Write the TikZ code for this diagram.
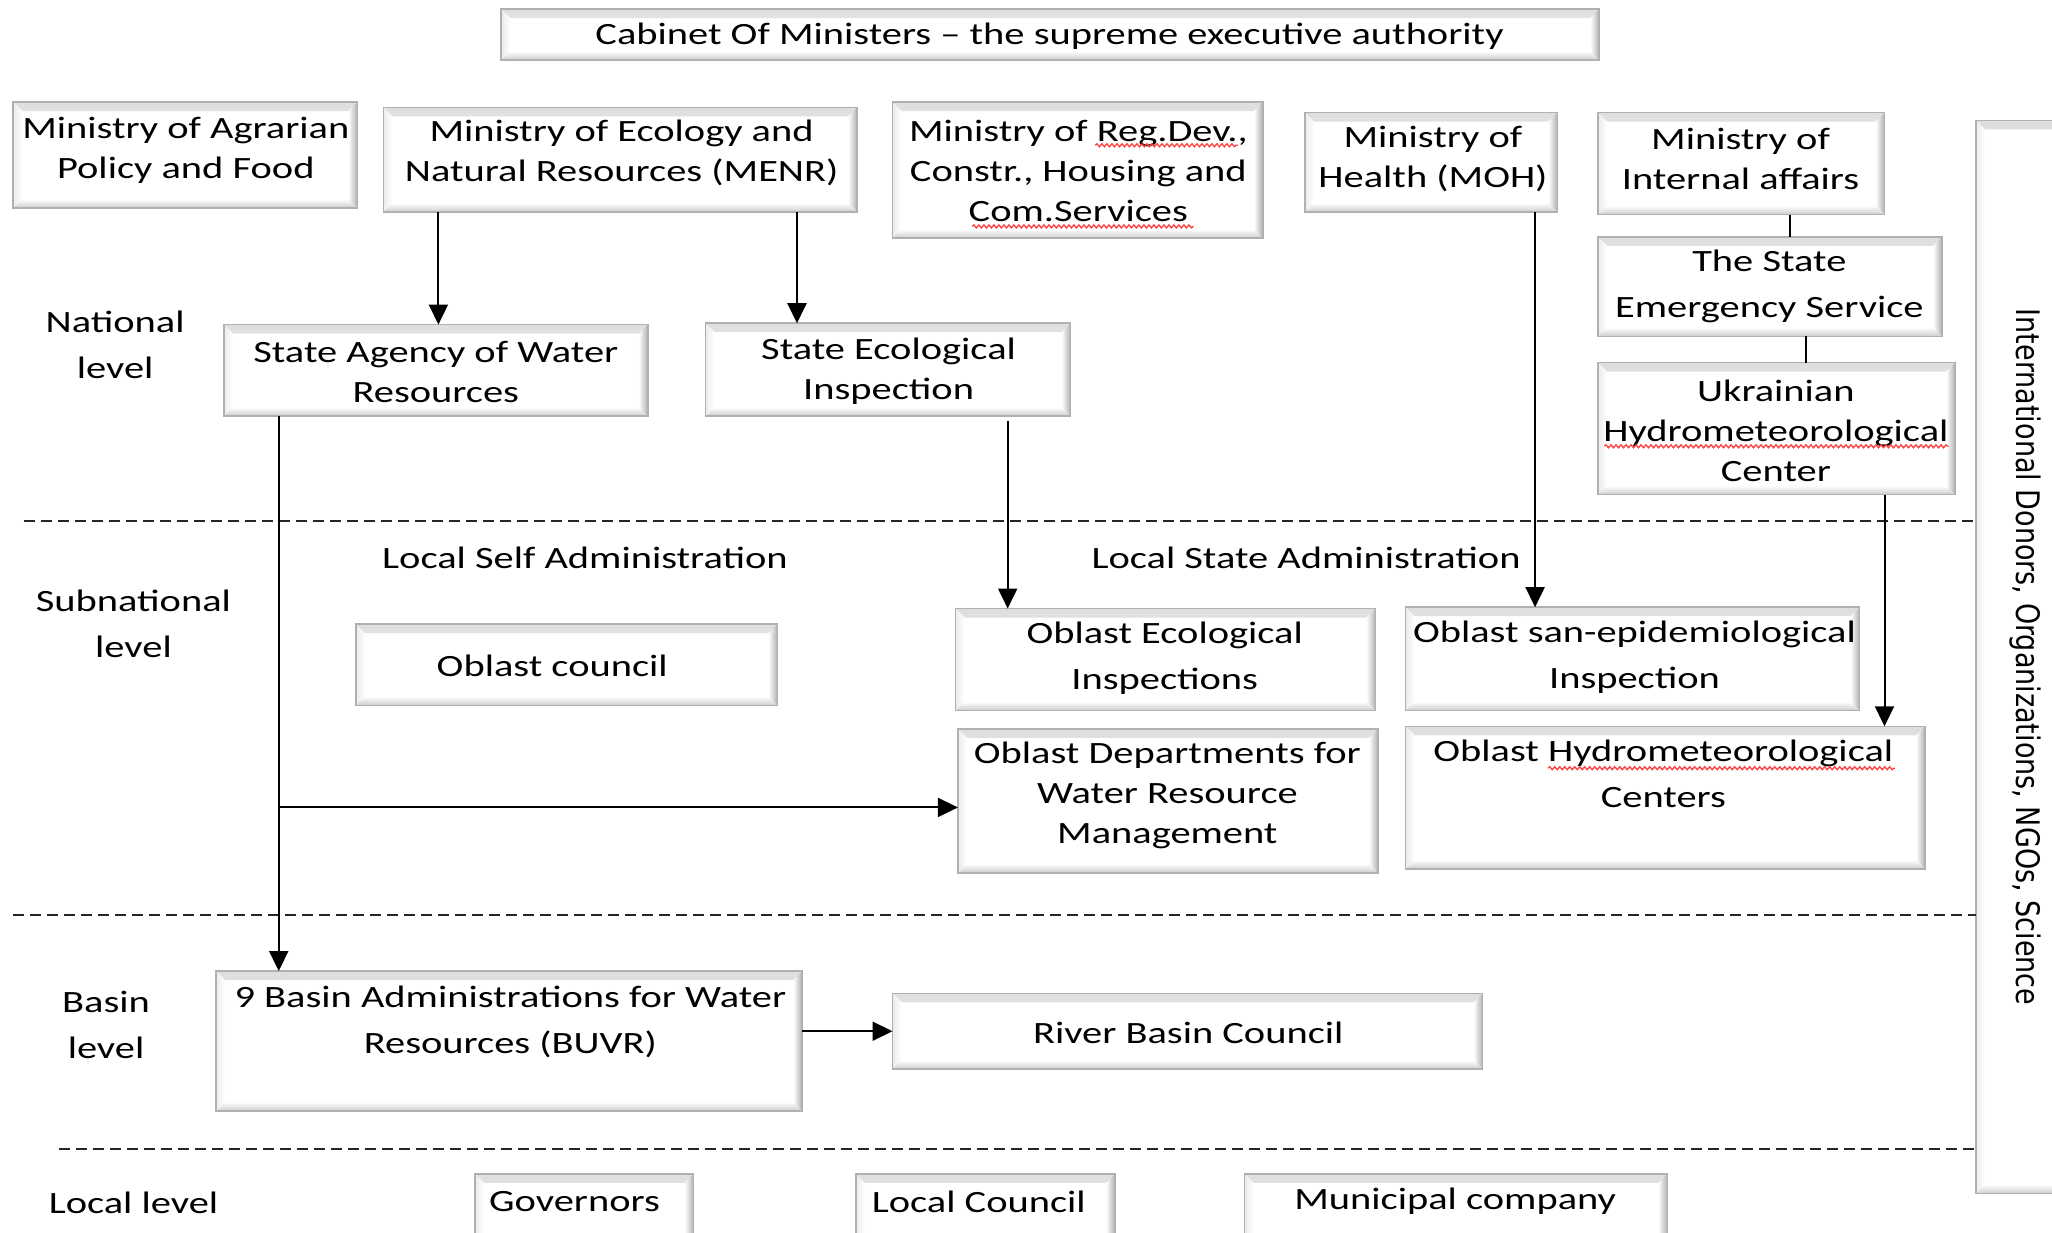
\documentclass[tikz,border=0pt]{standalone}
\usepackage{fontspec}
\setmainfont{Carlito}[FakeStretch=1.305]
\newfontfamily\vfont{DejaVu Sans}
\usetikzlibrary{arrows.meta,fit,calc,decorations.pathmorphing}

\tikzset{
  bevelbox/.style={draw=gray!62, line width=1.5pt, fill=white, inner sep=0pt, outer sep=0pt,
    path picture={
      \shade[top color=gray!26, bottom color=white]
        let \p1=(path picture bounding box.south west), \p2=(path picture bounding box.north east) in
        (\x1,\y2) -- (\x2,\y2) -- ({\x2-9pt},{\y2-9pt}) -- ({\x1+9pt},{\y2-9pt}) -- cycle;
      \shade[left color=white, right color=gray!62]
        let \p1=(path picture bounding box.south west), \p2=(path picture bounding box.north east) in
        (\x2,\y2) -- (\x2,\y1) -- ({\x2-9pt},{\y1+9pt}) -- ({\x2-9pt},{\y2-9pt}) -- cycle;
      \shade[top color=white, bottom color=gray!40]
        let \p1=(path picture bounding box.south west), \p2=(path picture bounding box.north east) in
        (\x1,\y1) -- (\x2,\y1) -- ({\x2-9pt},{\y1+9pt}) -- ({\x1+9pt},{\y1+9pt}) -- cycle;
      \shade[left color=gray!16, right color=white]
        let \p1=(path picture bounding box.south west), \p2=(path picture bounding box.north east) in
        (\x1,\y1) -- (\x1,\y2) -- ({\x1+9pt},{\y2-9pt}) -- ({\x1+9pt},{\y1+9pt}) -- cycle;
    }},
  txt/.style={font=\fontsize{31pt}{40pt}\selectfont, align=center, inner sep=0pt, text=black, yshift=-2.6pt},
  txtw/.style={font=\fontsize{31pt}{46pt}\selectfont, align=center, inner sep=0pt, text=black, yshift=-2.6pt},
  arr/.style={line width=2pt, draw=black, -{Triangle[length=20pt,width=19pt]}},
  ln/.style={line width=2pt, draw=black},
  dline/.style={line width=1.7pt, draw=black!85, dash pattern=on 11pt off 6pt},
  wavy/.style={draw=red!75, line width=1.3pt, decorate, decoration={snake, amplitude=1.5pt, segment length=5pt}},
}

\begin{document}
\begin{tikzpicture}[x=1.3087pt,y=-1.3087pt]
\clip (0,0) rectangle (1568,942);
\fill[white] (0,0) rectangle (1568,942);

% boxes
\node[bevelbox, fit={(383,7)(1222,46)}] (cab) {};
\node[bevelbox, fit={(10,78)(273,159)}] (agr) {};
\node[bevelbox, fit={(293,82)(655,162)}] (menr) {};
\node[bevelbox, fit={(682,78)(965,182)}] (reg) {};
\node[bevelbox, fit={(997,86)(1190,162)}] (moh) {};
\node[bevelbox, fit={(1221,86)(1440,164)}] (mia) {};
\node[bevelbox, fit={(1221,181)(1484,257)}] (ses) {};
\node[bevelbox, fit={(1221,277)(1494,378)}] (uhc) {};
\node[bevelbox, fit={(171,248)(495,318)}] (saw) {};
\node[bevelbox, fit={(539,247)(818,318)}] (sei) {};
\node[bevelbox, fit={(272,477)(594,539)}] (oc) {};
\node[bevelbox, fit={(730,465)(1051,543)}] (oei) {};
\node[bevelbox, fit={(1074,464)(1421,543)}] (ose) {};
\node[bevelbox, fit={(732,557)(1053,667)}] (odw) {};
\node[bevelbox, fit={(1074,555)(1471,664)}] (ohc) {};
\node[bevelbox, fit={(165,742)(613,849)}] (bas) {};
\node[bevelbox, fit={(682,759)(1133,817)}] (rbc) {};
\node[bevelbox, fit={(363,897)(530,975)}] (gov) {};
\node[bevelbox, fit={(654,897)(852,975)}] (lc) {};
\node[bevelbox, fit={(951,897)(1274,975)}] (mc) {};
\node[bevelbox, fit={(1510,92)(1600,912)}] (intl) {};

% dashed level separators
\draw[dline] (18,398) -- (1510,398);
\draw[dline] (10,699) -- (1510,699);
\draw[dline] (45,878) -- (1510,878);

% texts
\node[txt] (tcab) at (802,26) {Cabinet Of Ministers -- the supreme executive authority};
\node[txt] (tagr) at (142,113) {Ministry of Agrarian\\Policy and Food};
\node[txt] (tmenr) at (475,115) {Ministry of Ecology and\\Natural Resources (MENR)};
\node[txt] (treg) at (824,128.5) {Ministry of Reg.Dev.,\\Constr., Housing and\\Com.Services};
\node[txt] (tmoh) at (1095,119.5) {Ministry of\\Health (MOH)};
\node[txt] (tmia) at (1330,119.5) {Ministry of\\Internal affairs};
\node[txtw] (tses) at (1352,216.5) {The State\\Emergency Service};
\node[txt] (tuhc) at (1357,327.5) {Ukrainian\\Hydrometeorological\\Center};
\node[txtw] (tnat) at (88,261.5) {National\\level};
\node[txt] (tsaw) at (333,282) {State Agency of Water\\Resources};
\node[txt] (tsei) at (679,282) {State Ecological\\Inspection};
\node[txt] (tlsa) at (447,424) {Local Self Administration};
\node[txt] (tlsta) at (998,424) {Local State Administration};
\node[txtw] (tsub) at (102,474.5) {Subnational\\level};
\node[txt] (toc) at (422,507) {Oblast council};
\node[txtw] (toei) at (890,501) {Oblast Ecological\\Inspections};
\node[txtw] (tose) at (1249,500.5) {Oblast san-epidemiological\\Inspection};
\node[txt] (todw) at (892,606) {Oblast Departments for\\Water Resource\\Management};
\node[txtw] (tohc) at (1271,589.5) {Oblast Hydrometeorological\\Centers};
\node[txtw] (tbl) at (81,781.5) {Basin\\level};
\node[txtw] (tbas) at (390,778.5) {9 Basin Administrations for Water\\Resources (BUVR)};
\node[txt] (trbc) at (908,787) {River Basin Council};
\node[txt] (tll) at (102,917) {Local level};
\node[txt] (tgov) at (439,916) {Governors};
\node[txt] (tlc) at (748,916) {Local Council};
\node[txt] (tmc) at (1112,916) {Municipal company};
\node[rotate=-90, inner sep=0pt, font=\vfont\fontsize{27pt}{30pt}\selectfont] (tintl) at (1548,502)
  {\scalebox{1}[1.2]{International Donors, Organizations, NGOs, Science}};

% spell-check underlines
\draw[wavy] (837,111) -- (946,111);
\draw[wavy] (743,173) -- (912,173);
\draw[wavy] (1226,341) -- (1489,341);
\draw[wavy] (1183,587) -- (1448,587);

% connectors
\draw[arr] ($(menr.south west)+(42,0)$) coordinate (p1) -- (p1 |- saw.north);
\draw[arr] ($(menr.south west)+(316,0)$) coordinate (p2) -- (p2 |- sei.north);
\draw[arr] ($(sei.south west)+(231,4)$) coordinate (p3) -- (p3 |- oei.north);
\draw[arr] ($(moh.south west)+(176,0)$) coordinate (p4) -- (p4 |- ose.north);
\draw[ln]  ($(mia.south west)+(147,0)$) coordinate (p5) -- (p5 |- ses.north);
\draw[ln]  ($(ses.south west)+(159,0)$) coordinate (p6) -- (p6 |- uhc.north);
\draw[arr] ($(uhc.south west)+(219,0)$) coordinate (p7) -- (p7 |- ohc.north);
\draw[arr] ($(saw.south west)+(42,0)$) coordinate (p8) -- (p8 |- bas.north);
\path ($(odw.west)+(0,5)$) coordinate (p9);
\draw[arr] (p8 |- p9) -- (p9);
\draw[arr] (bas.east |- rbc.west) -- (rbc.west);
\end{tikzpicture}
\end{document}
